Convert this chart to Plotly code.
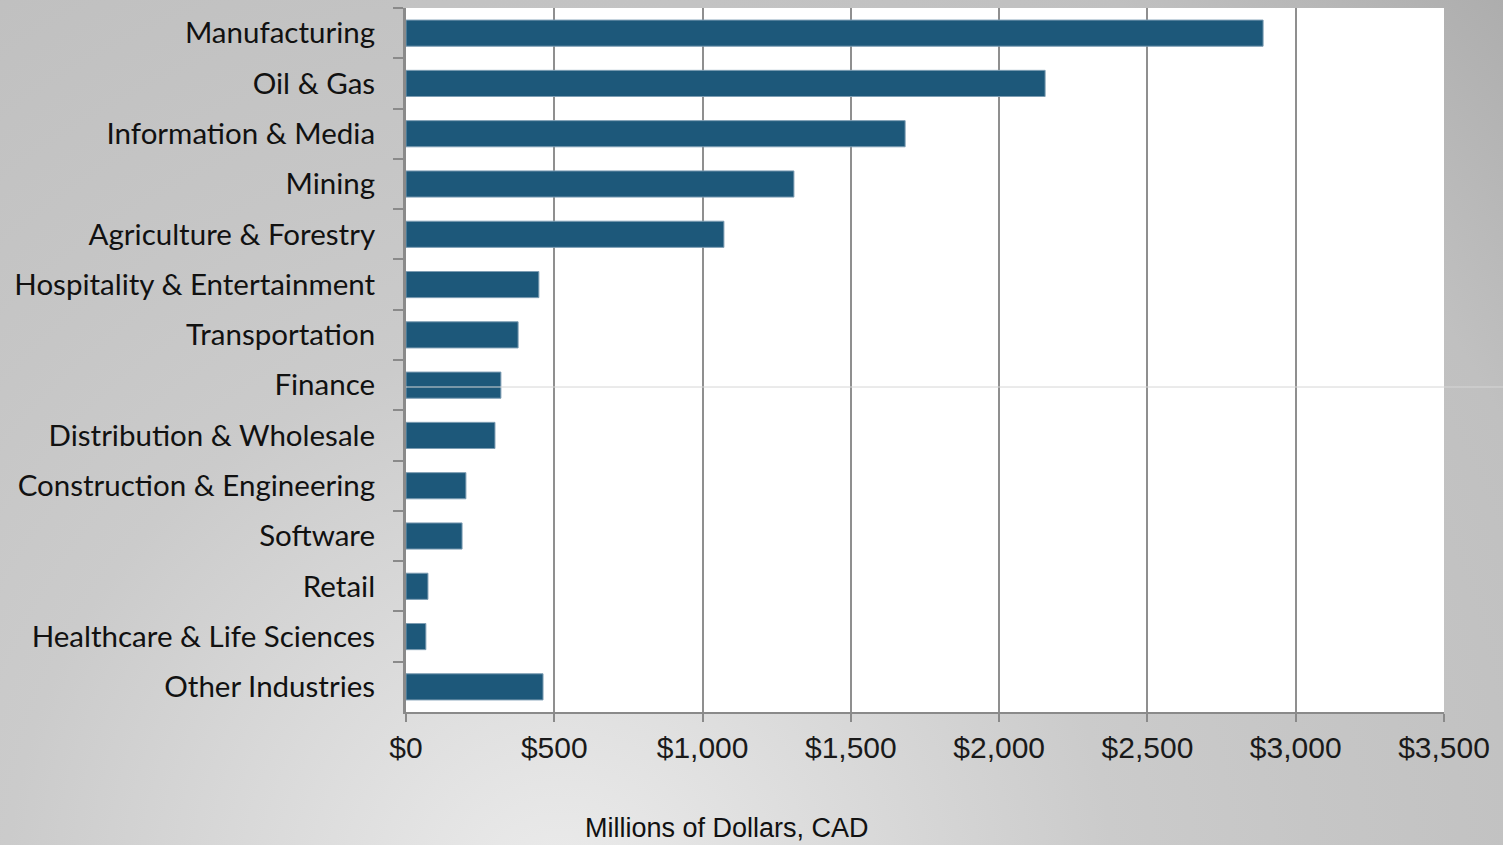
import base64
import plotly.graph_objects as go

# Investment by industry, millions of CAD
industries = [
    "Manufacturing", "Oil & Gas", "Information & Media", "Mining",
    "Agriculture & Forestry", "Hospitality & Entertainment", "Transportation",
    "Finance", "Distribution & Wholesale", "Construction & Engineering",
    "Software", "Retail", "Healthcare & Life Sciences", "Other Industries",
]
amounts = [2890, 2155, 1683, 1308, 1072, 448, 378, 320, 300, 202, 189, 74, 67, 462]

x_ticks = [0, 500, 1000, 1500, 2000, 2500, 3000, 3500]
x_tick_text = ["$0", "$500", "$1,000", "$1,500", "$2,000", "$2,500", "$3,000", "$3,500"]

W, H = 1503, 845
L, R, T, B = 406, 59, 8, 133
PW, PH = W - L - R, H - T - B

# soft grey radial backdrop with a white panel under the plot area
svg = f"""<svg xmlns='http://www.w3.org/2000/svg' width='{W}' height='{H}'>
<defs><radialGradient id='g' gradientUnits='userSpaceOnUse' cx='560' cy='900' r='1320'>
<stop offset='0' stop-color='#ececec'/>
<stop offset='0.42' stop-color='#cbcbcb'/>
<stop offset='0.57' stop-color='#c6c6c6'/>
<stop offset='0.8' stop-color='#c0c0c0'/>
<stop offset='1' stop-color='#acacac'/>
</radialGradient></defs>
<rect width='{W}' height='{H}' fill='url(#g)'/>
<rect x='{L}' y='{T}' width='{PW}' height='{PH}' fill='#ffffff'/></svg>"""
bg_src = "data:image/svg+xml;base64," + base64.b64encode(svg.encode()).decode()

fig = go.Figure(
    go.Bar(
        x=amounts,
        y=industries,
        orientation="h",
        marker=dict(color="#1d587a", line=dict(color="#7d9db3", width=1)),
        hoverinfo="x+y",
    )
)

fig.update_layout(
    width=W,
    height=H,
    margin=dict(l=L, r=R, t=T, b=B),
    paper_bgcolor="#d0d0d0",
    plot_bgcolor="#ffffff",
    bargap=0.48,
    showlegend=False,
    images=[dict(
        source=bg_src, xref="paper", yref="paper",
        x=-L / PW, y=1 + T / PH, sizex=W / PW, sizey=H / PH,
        xanchor="left", yanchor="top", sizing="stretch", layer="below",
    )],
    shapes=[dict(
        type="line", xref="paper", yref="paper",
        x0=0, x1=(W - L) / PW, y0=1 - (387 - T) / PH, y1=1 - (387 - T) / PH,
        line=dict(color="#d6d6d6", width=1),
    )],
    annotations=[dict(
        text="Millions of Dollars, CAD", xref="paper", yref="paper",
        x=(727 - L) / PW, y=-(828 - T - PH) / PH, xanchor="center", yanchor="middle",
        showarrow=False, font=dict(family="Liberation Sans", size=27, color="#111111"),
    )],
)

fig.update_xaxes(
    range=[0, 3500],
    tickvals=x_ticks,
    ticktext=x_tick_text,
    showgrid=True,
    gridcolor="#8f8f8f",
    gridwidth=2,
    zeroline=False,
    showline=True,
    linecolor="#8a8a8a",
    linewidth=2,
    ticks="outside",
    ticklen=8,
    tickwidth=2,
    tickcolor="#8a8a8a",
    ticklabelstandoff=0,
    tickfont=dict(family="Liberation Sans", size=30, color="#1a1a1a"),
)

fig.update_yaxes(
    categoryorder="array",
    categoryarray=industries,
    autorange="reversed",
    showgrid=False,
    showline=True,
    linecolor="#8a8a8a",
    linewidth=3,
    ticks="outside",
    tickson="boundaries",
    ticklen=10,
    tickwidth=2,
    tickcolor="#8a8a8a",
    ticklabelstandoff=22,
    tickfont=dict(family="Lato", size=29.5, color="#111111"),
)

fig.write_html("out.html")
